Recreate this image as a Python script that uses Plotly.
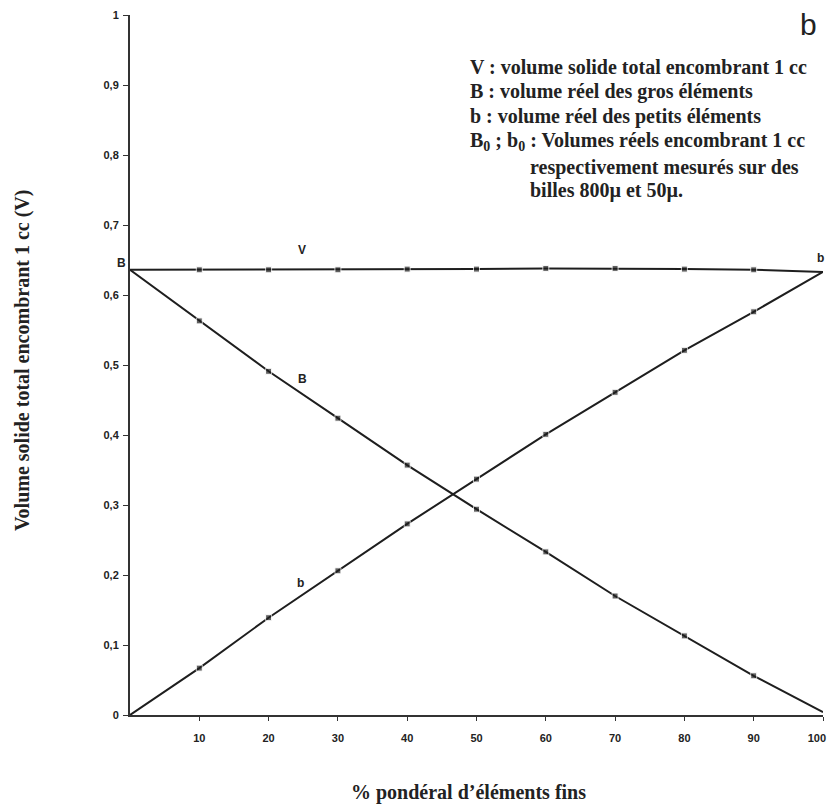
import plotly.graph_objects as go

# ---- data ----
pct_fins = [0, 10, 20, 30, 40, 50, 60, 70, 80, 90, 100]
V_total = [0.636, 0.636, 0.636, 0.636, 0.637, 0.637, 0.638, 0.638, 0.637, 0.636, 0.633]
B_gros = [0.636, 0.563, 0.491, 0.424, 0.357, 0.294, 0.233, 0.170, 0.113, 0.056, 0.004]
b_petits = [0.0, 0.067, 0.139, 0.206, 0.273, 0.337, 0.401, 0.461, 0.521, 0.576, 0.633]
marker_sizes = [0, 6, 6, 6, 6, 6, 6, 6, 6, 6, 0]

x_tickvals = [10, 20, 30, 40, 50, 60, 70, 80, 90, 100]
x_ticktext = ["10", "20", "30", "40", "50", "60", "70", "80", "90", "100"]
y_tickvals = [0, 0.1, 0.2, 0.3, 0.4, 0.5, 0.6, 0.7, 0.8, 0.9, 1.0]
y_ticktext = ["0", "0,1", "0,2", "0,3", "0,4", "0,5", "0,6", "0,7", "0,8", "0,9", "1"]

legend_lines = [
    ("V : volume solide total encombrant 1 cc", 468, 67),
    ("B : volume réel des gros éléments", 468, 92),
    ("b : volume réel des petits éléments", 468, 117),
    ("B<sub>0</sub> ; b<sub>0</sub> : Volumes réels encombrant 1 cc", 468, 142),
    ("respectivement mesurés sur des", 528, 167),
    ("billes 800µ et 50µ.", 528, 190),
]

W, H = 827, 805
PL, PT, PW, PH = 130, 15, 693, 700          # plot area in page pixels
ML, MT = PL, PT
MR = W - ML - PW
MB = H - MT - PH


def px(xp):
    return (xp - PL) / PW


def py(yp):
    return (PT + PH - yp) / PH


# keep the last x tick label inside the page (non-breaking pad shifts it left)
x_ticklabels = list(x_ticktext)
x_ticklabels[-1] = x_ticklabels[-1] + "\u00a0\u00a0\u00a0\u00a0"

INK = "#1e1e1e"
fig = go.Figure()
for ys in (V_total, B_gros, b_petits):
    fig.add_trace(go.Scatter(
        x=pct_fins, y=ys, mode="lines+markers",
        line=dict(color=INK, width=2),
        marker=dict(symbol="square", size=marker_sizes, color=INK),
        cliponaxis=False, showlegend=False, hoverinfo="x+y",
    ))

serif = "Liberation Serif"
ann = []
for txt, xp, yp in legend_lines:
    ann.append(dict(text=txt, x=px(xp), y=py(yp), xref="paper", yref="paper",
                    xanchor="left", yanchor="middle", showarrow=False,
                    font=dict(family=serif, size=20, color="#222", weight="bold")))
# panel letter
ann.append(dict(text="b", x=px(808), y=py(25), xref="paper", yref="paper",
                xanchor="center", yanchor="middle", showarrow=False,
                font=dict(family="Liberation Sans", size=30, color="#222")))
# axis titles
ann.append(dict(text="% pondéral d’éléments fins", x=px(468), y=py(792),
                xref="paper", yref="paper", xanchor="center", yanchor="middle",
                showarrow=False, font=dict(family=serif, size=20, color="#222", weight="bold")))
ann.append(dict(text="Volume solide total encombrant 1 cc (V)", x=px(22), y=py(361),
                xref="paper", yref="paper", xanchor="center", yanchor="middle",
                textangle=-90, showarrow=False,
                font=dict(family=serif, size=20, color="#222", weight="bold")))
# curve labels
small = dict(family="Liberation Sans", size=12, color="#222", weight="bold")
for txt, xp, yp in [("V", 302, 250), ("B", 302, 379), ("b", 300, 583),
                    ("B", 121, 263), ("b", 820, 258)]:
    ann.append(dict(text=txt, x=px(xp), y=py(yp), xref="paper", yref="paper",
                    xanchor="center", yanchor="middle", showarrow=False, font=small))

tickfont = dict(family="Liberation Sans", size=11, color="#222", weight="bold")
fig.update_layout(
    width=W, height=H,
    margin=dict(l=ML, r=MR, t=MT, b=MB, pad=0, autoexpand=False),
    paper_bgcolor="white", plot_bgcolor="white",
    annotations=ann,
    xaxis=dict(range=[0, 100], showline=True, linecolor="#333", linewidth=2,
               showgrid=False, zeroline=False, ticks="outside", ticklen=4,
               tickcolor="#333", tickvals=x_tickvals, ticktext=x_ticklabels,
               tickfont=tickfont, ticklabelstandoff=8, ticklabeloverflow="allow",
               automargin=False),
    yaxis=dict(range=[0, 1], showline=True, linecolor="#333", linewidth=2,
               showgrid=False, zeroline=False, ticks="outside", ticklen=5,
               tickcolor="#333", tickvals=y_tickvals, ticktext=y_ticktext,
               tickfont=tickfont, ticklabelstandoff=2, ticklabeloverflow="allow",
               automargin=False),
)

page_css = ("document.documentElement.style.margin='0';"
            "document.body.style.margin='0';"
            "document.documentElement.style.overflow='hidden';"
            "document.body.style.overflow='hidden';")
fig.write_html("out.html", post_script=page_css,
               config={"displayModeBar": False, "staticPlot": True})
